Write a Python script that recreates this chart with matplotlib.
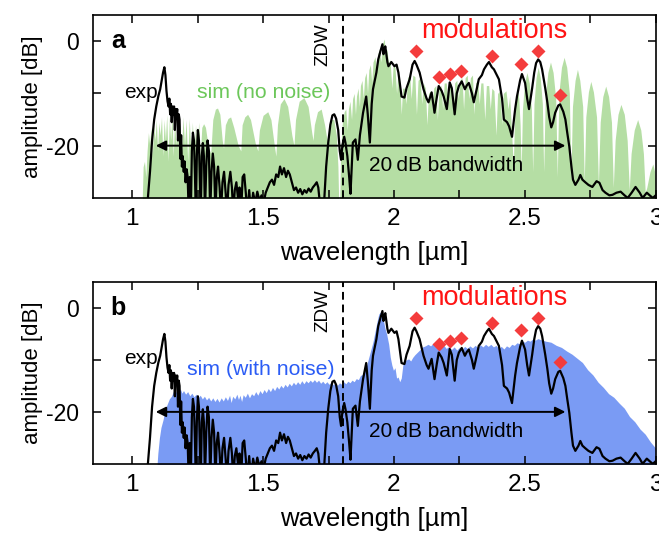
import numpy as np
import matplotlib
matplotlib.use("Agg")
import matplotlib.pyplot as plt

plt.rcParams["font.family"] = ["Liberation Sans", "DejaVu Sans"]
plt.rcParams["axes.unicode_minus"] = False

# measured spectrum (wavelength in um, amplitude in dB)
exp_pts = [
    (1.050, -33), (1.060, -30), (1.068, -25), (1.076, -19), (1.084, -15), (1.092, -12.5),
    (1.100, -10.5), (1.107, -9.2), (1.113, -7.5), (1.118, -6), (1.123, -5), (1.127, -6.5),
    (1.131, -9.5), (1.135, -11.5), (1.139, -12.5), (1.142, -11), (1.145, -14), (1.148, -12),
    (1.151, -15.5), (1.154, -12.5), (1.157, -14), (1.160, -12.5), (1.163, -17), (1.166, -13),
    (1.169, -14.5), (1.172, -13), (1.175, -19), (1.178, -14), (1.181, -15), (1.184, -22.5),
    (1.187, -18), (1.190, -24), (1.193, -22), (1.197, -25), (1.200, -23), (1.204, -27),
    (1.208, -24.5), (1.212, -26), (1.216, -33), (1.220, -26), (1.224, -33), (1.228, -21),
    (1.232, -17.5), (1.236, -19), (1.240, -26), (1.243, -33), (1.247, -22), (1.251, -17),
    (1.255, -19), (1.259, -28), (1.262, -33), (1.266, -22), (1.270, -19.5), (1.274, -22),
    (1.278, -33), (1.283, -24), (1.288, -19), (1.293, -21), (1.298, -33), (1.303, -25),
    (1.308, -21.5), (1.313, -24), (1.318, -33), (1.323, -26), (1.328, -24), (1.334, -28),
    (1.339, -33), (1.345, -27), (1.351, -25), (1.357, -29), (1.362, -33), (1.368, -27.5),
    (1.375, -25), (1.381, -28), (1.386, -33), (1.392, -28.5), (1.398, -27), (1.404, -30),
    (1.410, -28), (1.416, -33), (1.422, -26), (1.428, -25.5), (1.434, -29), (1.440, -33),
    (1.447, -28.5), (1.454, -33), (1.462, -29), (1.470, -31), (1.478, -28.8), (1.486, -30.5),
    (1.494, -29.5), (1.502, -31), (1.510, -29), (1.518, -28), (1.526, -27), (1.534, -26.5),
    (1.542, -27.5), (1.550, -25.5), (1.558, -26), (1.565, -24), (1.572, -25.5), (1.580, -24.3),
    (1.588, -26), (1.595, -24.8), (1.602, -25.5), (1.610, -27), (1.618, -28.5), (1.626, -28),
    (1.634, -29), (1.642, -28.3), (1.650, -29.3), (1.658, -28.5), (1.666, -29), (1.674, -28.2),
    (1.682, -28.8), (1.690, -28), (1.698, -27.5), (1.705, -27), (1.711, -28), (1.716, -30.5),
    (1.722, -33), (1.729, -33), (1.733, -31), (1.741, -24), (1.749, -19.4), (1.757, -16),
    (1.765, -14.2), (1.772, -14), (1.779, -14.8), (1.787, -17), (1.793, -21), (1.798, -22.7),
    (1.803, -20), (1.810, -18.3), (1.815, -19.5), (1.822, -22), (1.829, -26), (1.834, -29.2),
    (1.843, -19.4), (1.853, -18.8), (1.862, -22.7), (1.870, -18), (1.882, -13.7), (1.894, -10.6),
    (1.900, -14), (1.908, -19.4), (1.915, -12), (1.920, -9.2), (1.933, -6), (1.940, -3.5),
    (1.948, -2), (1.956, -0.6), (1.960, -2.5), (1.964, -1.5), (1.967, -1), (1.975, -4),
    (1.979, -4.8), (1.990, -4), (2.002, -4.8), (2.010, -4.5), (2.017, -6), (2.029, -10.6),
    (2.040, -10.8), (2.048, -9), (2.060, -7.3), (2.071, -4.5), (2.079, -3.8), (2.086, -4.5),
    (2.098, -6), (2.113, -9.2), (2.125, -11), (2.132, -11.7), (2.144, -9.8), (2.155, -13.7),
    (2.163, -11), (2.171, -8.6), (2.182, -9.5), (2.190, -10.6), (2.202, -13), (2.213, -7.9),
    (2.221, -9), (2.232, -14), (2.240, -10), (2.248, -8.6), (2.259, -7.7), (2.271, -9.2),
    (2.278, -8.5), (2.286, -8), (2.298, -10), (2.305, -11.7), (2.317, -9), (2.324, -7.3),
    (2.336, -6.5), (2.344, -5.4), (2.355, -4.5), (2.363, -4), (2.374, -5), (2.382, -5.4),
    (2.393, -6.5), (2.401, -7.3), (2.413, -11), (2.420, -15), (2.432, -15.5), (2.440, -16.3),
    (2.451, -18.3), (2.463, -13), (2.470, -10.6), (2.482, -7.5), (2.489, -6.3), (2.501, -8),
    (2.509, -11), (2.516, -13), (2.528, -9), (2.536, -6), (2.543, -4.2), (2.551, -3.5),
    (2.559, -4), (2.566, -5.4), (2.578, -9), (2.586, -11.7), (2.593, -14.5), (2.601, -16.5),
    (2.608, -15.5), (2.616, -13.7), (2.628, -12.3), (2.635, -12.1), (2.647, -13.5), (2.655, -15),
    (2.662, -17.5), (2.670, -20.2), (2.678, -24), (2.684, -26.5), (2.693, -27.5), (2.705, -26.5),
    (2.712, -25.6), (2.720, -26.5), (2.731, -27), (2.743, -27.5), (2.758, -27.9), (2.774, -26.8),
    (2.785, -27.1), (2.797, -28.5), (2.808, -29), (2.823, -29.5), (2.835, -29.4), (2.850, -29),
    (2.866, -28.8), (2.881, -29.5), (2.893, -30), (2.908, -29), (2.923, -27.9), (2.939, -29),
    (2.950, -30), (2.966, -29), (2.977, -29.5), (2.989, -30), (3.000, -29.5),
]

# simulation without noise
sim_pts = [
    (1.038, -31), (1.042, -24), (1.047, -23), (1.052, -26), (1.057, -21), (1.062, -17.5),
    (1.067, -20), (1.072, -16.5), (1.077, -22), (1.082, -16), (1.087, -19), (1.092, -15),
    (1.097, -21), (1.102, -15.5), (1.107, -18), (1.112, -14.5), (1.117, -22), (1.122, -15),
    (1.127, -19), (1.132, -14), (1.137, -23), (1.142, -14.5), (1.147, -19), (1.152, -13.8),
    (1.157, -22), (1.162, -15), (1.167, -20), (1.172, -14.2), (1.177, -21), (1.182, -15.5),
    (1.188, -22), (1.194, -14.5), (1.200, -20), (1.206, -15), (1.212, -23), (1.218, -14.8),
    (1.224, -21), (1.230, -15.5), (1.236, -22), (1.242, -16), (1.248, -21), (1.254, -15.5),
    (1.260, -22), (1.266, -16.5), (1.273, -15.8), (1.280, -16.5), (1.290, -20), (1.300, -21.5),
    (1.308, -15), (1.318, -13), (1.326, -12.8), (1.335, -14), (1.344, -19), (1.349, -20.5),
    (1.356, -16), (1.366, -14.8), (1.376, -14.5), (1.388, -16.5), (1.405, -20), (1.415, -21),
    (1.420, -16), (1.430, -14.5), (1.441, -14), (1.452, -15), (1.470, -19.5), (1.480, -21),
    (1.486, -17), (1.500, -14.2), (1.518, -13.5), (1.530, -15), (1.543, -20), (1.549, -22),
    (1.555, -16), (1.566, -12), (1.580, -11), (1.594, -12.5), (1.610, -18), (1.618, -20),
    (1.624, -15), (1.638, -11.5), (1.656, -10.8), (1.672, -12.5), (1.686, -17.5), (1.691, -19),
    (1.696, -16), (1.708, -13.5), (1.722, -13), (1.735, -16), (1.743, -18.5), (1.747, -19),
    (1.752, -16.5), (1.760, -15), (1.770, -15), (1.780, -18), (1.786, -24), (1.789, -31),
    (1.793, -31), (1.796, -22), (1.802, -16), (1.810, -13.5), (1.816, -13), (1.822, -17),
    (1.826, -13), (1.832, -11.5), (1.838, -15), (1.842, -11), (1.848, -10), (1.853, -14),
    (1.857, -10.5), (1.863, -9), (1.868, -12.5), (1.872, -8.5), (1.878, -7.5), (1.883, -11),
    (1.888, -7), (1.894, -6), (1.899, -10), (1.904, -5.5), (1.910, -4.5), (1.915, -8),
    (1.920, -4), (1.928, -3), (1.933, -6), (1.938, -2.5), (1.945, -1.5), (1.950, -4),
    (1.956, -0.5), (1.963, 0.4), (1.968, -3), (1.973, -1.5), (1.980, -4.5), (1.985, -3.5),
    (1.992, -9), (1.997, -4.5), (2.004, -5), (2.010, -10), (2.015, -6), (2.022, -7.5),
    (2.028, -14), (2.033, -9), (2.040, -9), (2.046, -12), (2.052, -7), (2.060, -6.5),
    (2.066, -11), (2.072, -6.5), (2.080, -6.8), (2.086, -14), (2.092, -7.5), (2.100, -7),
    (2.106, -12), (2.112, -8), (2.120, -9), (2.126, -16), (2.132, -10), (2.140, -9.5),
    (2.146, -13), (2.152, -9), (2.160, -8.5), (2.166, -15), (2.172, -9), (2.180, -8.5),
    (2.186, -13), (2.192, -8), (2.200, -8), (2.206, -12), (2.212, -8.5), (2.220, -8),
    (2.226, -14), (2.232, -8), (2.240, -7.5), (2.246, -11), (2.252, -7.5), (2.260, -7),
    (2.266, -13), (2.272, -7), (2.280, -6.5), (2.286, -11), (2.292, -7), (2.300, -6.5),
    (2.306, -14), (2.312, -8), (2.320, -7.5), (2.326, -12), (2.332, -8), (2.340, -8),
    (2.347, -15), (2.353, -8.5), (2.362, -8.5), (2.368, -13), (2.374, -9), (2.382, -9.5),
    (2.390, -18), (2.396, -10), (2.405, -9.5), (2.412, -16), (2.418, -10), (2.428, -9.5),
    (2.436, -13), (2.442, -10.5), (2.450, -18), (2.456, -24),
    (2.460, -16), (2.465, -11), (2.471, -9), (2.477, -11), (2.482, -16), (2.486, -25),
    (2.491, -13), (2.499, -8), (2.508, -6), (2.517, -8), (2.525, -13), (2.530, -25),
    (2.535, -12), (2.543, -7), (2.551, -5), (2.559, -7), (2.567, -12), (2.572, -25),
    (2.578, -11), (2.588, -6), (2.598, -4), (2.608, -6), (2.618, -11), (2.624, -26),
    (2.630, -10), (2.640, -5), (2.650, -3.1), (2.660, -5), (2.670, -10), (2.676, -26.5),
    (2.682, -12.5), (2.692, -7.5), (2.701, -5.4), (2.710, -7.5), (2.721, -12.5), (2.727, -27),
    (2.733, -14.5), (2.743, -9.7), (2.752, -7.7), (2.762, -9.7), (2.774, -14.5), (2.781, -27.5),
    (2.788, -15.5), (2.798, -10.6), (2.809, -8.6), (2.820, -10.6), (2.831, -15.5), (2.838, -28),
    (2.845, -19), (2.856, -14), (2.867, -12.1), (2.880, -14), (2.891, -19), (2.899, -28.5),
    (2.906, -21.5), (2.918, -17), (2.931, -15), (2.943, -17), (2.953, -21.5), (2.960, -29),
    (2.966, -28), (2.978, -25), (2.989, -23.5), (2.996, -25), (3.000, -27),
]

# simulation with noise
noise_pts = [
    (1.094, -31), (1.098, -28), (1.104, -25), (1.110, -23), (1.118, -21.5), (1.126, -19.5),
    (1.134, -18.5), (1.142, -17.5), (1.150, -17), (1.158, -16), (1.166, -16.3), (1.172, -15.5),
    (1.178, -16.2), (1.184, -15.6), (1.190, -16.4), (1.196, -15.9), (1.204, -16.6), (1.212, -16.1),
    (1.220, -16.9), (1.228, -16.4), (1.236, -17.1), (1.244, -16.6), (1.252, -17.3), (1.260, -16.8),
    (1.268, -17.5), (1.276, -17), (1.284, -17.7), (1.292, -17.2), (1.300, -17.9), (1.308, -17.3),
    (1.316, -18), (1.324, -17.4), (1.332, -18.1), (1.340, -17.3), (1.348, -17.9), (1.356, -17.1),
    (1.364, -17.8), (1.372, -16.8), (1.378, -18.2), (1.384, -17), (1.392, -17.5), (1.400, -16.6),
    (1.406, -17.6), (1.412, -16.8), (1.418, -18), (1.424, -16.7), (1.432, -17.2), (1.440, -16.4),
    (1.448, -17.3), (1.456, -16.5), (1.464, -16.9), (1.472, -16.1), (1.480, -16.8), (1.488, -15.9),
    (1.496, -16.5), (1.504, -15.7), (1.512, -16.3), (1.520, -15.5), (1.528, -16.1), (1.536, -15.3),
    (1.544, -15.9), (1.552, -15.1), (1.560, -15.6), (1.568, -14.9), (1.576, -15.4), (1.584, -14.7),
    (1.592, -15.2), (1.600, -14.5), (1.608, -15), (1.616, -14.3), (1.624, -14.8), (1.632, -14.2),
    (1.640, -14.7), (1.648, -14), (1.656, -14.6), (1.664, -14), (1.672, -14.4), (1.680, -13.9),
    (1.688, -14.3), (1.696, -13.8), (1.704, -14.3), (1.712, -13.9), (1.720, -14.5), (1.728, -14.1),
    (1.736, -14.6), (1.744, -14.2), (1.752, -14.7), (1.760, -14.3), (1.768, -14.8), (1.776, -14.4),
    (1.784, -14.9), (1.792, -14.4), (1.800, -14.7), (1.808, -14.2), (1.816, -14.6), (1.824, -14.1),
    (1.832, -14.4), (1.840, -13.9), (1.848, -14.2), (1.856, -13.6), (1.864, -13.8), (1.872, -13),
    (1.880, -12.8), (1.888, -12), (1.896, -11), (1.904, -9.5), (1.912, -8), (1.920, -6.5),
    (1.928, -4.5), (1.936, -2.5), (1.942, -1.2), (1.948, -0.8), (1.954, -1.5), (1.960, -2.5),
    (1.966, -4), (1.972, -5), (1.980, -7), (1.986, -9.5), (1.992, -11), (1.998, -12),
    (2.004, -11.5), (2.010, -13.5), (2.016, -13.3), (2.022, -14.2), (2.028, -13.5), (2.034, -11),
    (2.040, -10.2), (2.048, -10), (2.056, -9.8), (2.064, -10.2), (2.072, -9.5), (2.080, -9),
    (2.090, -8.5), (2.100, -8), (2.110, -7.5), (2.120, -7.3), (2.130, -7), (2.140, -7.3),
    (2.150, -6.8), (2.160, -7.2), (2.170, -7), (2.180, -7.5), (2.190, -7.2), (2.200, -7.8),
    (2.210, -7.4), (2.220, -8), (2.230, -7.5), (2.240, -8.1), (2.250, -7.6), (2.260, -8),
    (2.270, -7.4), (2.280, -7.8), (2.290, -7.3), (2.300, -7.7), (2.310, -7.2), (2.320, -7.6),
    (2.330, -7.1), (2.340, -7.5), (2.350, -7), (2.360, -7.4), (2.370, -7), (2.380, -7.5),
    (2.390, -7.2), (2.400, -7.8), (2.410, -7.4), (2.420, -7.9), (2.430, -7.3), (2.440, -7.6),
    (2.450, -7), (2.460, -7.2), (2.470, -6.7), (2.480, -6.9), (2.490, -6.4), (2.500, -6.6),
    (2.510, -6.2), (2.520, -6.4), (2.530, -6), (2.540, -6.2), (2.550, -5.9), (2.560, -6.1),
    (2.580, -6.4), (2.600, -6.6), (2.620, -7.2), (2.640, -7.6), (2.660, -8.3), (2.680, -8.9),
    (2.700, -9.7), (2.720, -10.5), (2.740, -11.9), (2.760, -12.9), (2.780, -14.3), (2.800, -15.3),
    (2.820, -16.5), (2.840, -17.2), (2.860, -18.3), (2.880, -19.3), (2.900, -20.9), (2.920, -21.9),
    (2.940, -23.3), (2.960, -24.3), (2.980, -25.8), (3.000, -27),
]

# marked spectral modulations
mod_wl = [2.083, 2.171, 2.213, 2.255, 2.374, 2.486, 2.551, 2.635]
mod_db = [-1.9, -6.9, -6.3, -5.8, -2.9, -4.3, -1.9, -10.4]

zdw = 1.806
bw_left, bw_right, bw_level = 1.09, 2.655, -20

panels = [
    ("a", sim_pts, "#b5dea4", "sim (no noise)", "#6cc75a", 1.503, -9.8),
    ("b", noise_pts, "#7a9bf4", "sim (with noise)", "#2b5cf5", 1.49, -11.9),
]

exp_wl, exp_db = np.array(exp_pts).T

fig = plt.figure(figsize=(6.59, 5.35), dpi=100)
boxes = [[0.141, 0.630, 0.854, 0.342], [0.141, 0.133, 0.854, 0.340]]

for box, (tag, pts, fc, simlabel, simcol, sx, sy) in zip(boxes, panels):
    ax = fig.add_axes(box)
    wl, db = np.array(pts).T
    ax.fill_between(wl, db, -40, color=fc, lw=0)
    ax.plot(exp_wl, exp_db, color="black", lw=1.6)
    ax.axvline(zdw, color="black", lw=1.4, ls=(0, (4, 2.5)))
    ax.plot(mod_wl, mod_db, ls="none", marker="D", ms=7.5, color="#f43c3c", mec="none")
    ax.annotate("", xy=(bw_left, bw_level), xytext=(bw_right, bw_level),
                arrowprops=dict(arrowstyle="<|-|>", color="black", lw=1.4,
                                mutation_scale=15, shrinkA=0, shrinkB=0))
    ax.text(2.20, -23.7, "20\u2009dB bandwidth", fontsize=15, ha="center", va="center")
    ax.text(2.382, 1.9, "modulations", fontsize=19.5, color="#ff1414", ha="center", va="center")
    ax.text(1.032, -9.8, "exp", fontsize=15, ha="center", va="center")
    ax.text(sx, sy, simlabel, fontsize=15.3, color=simcol, ha="center", va="center")
    ax.text(1.729, -0.6, "ZDW", fontsize=13.5, rotation=90, ha="center", va="center")
    ax.text(0.946, 0, tag, fontsize=18, fontweight="bold", ha="center", va="center")

    ax.set_xlim(0.85, 3.0)
    ax.set_ylim(-30, 5)
    ax.set_xticks([1, 1.5, 2, 2.5, 3])
    ax.set_xticklabels(["1", "1.5", "2", "2.5", "3"])
    ax.set_xticks([1.25, 1.75, 2.25, 2.75], minor=True)
    ax.set_yticks([0, -20])
    ax.set_yticks([-10], minor=True)
    ax.tick_params(which="both", direction="in", top=True, right=True, width=1.1, length=6)
    ax.tick_params(axis="x", labelsize=17.5, pad=7)
    ax.tick_params(axis="y", labelsize=16.5, pad=10)
    for sp in ax.spines.values():
        sp.set_linewidth(1.2)
    ax.set_xlabel("wavelength [\u00b5m]", fontsize=18.5, labelpad=8)
    ax.set_ylabel("amplitude [dB]", fontsize=16, labelpad=2)

fig.savefig("out.png", dpi=100)
